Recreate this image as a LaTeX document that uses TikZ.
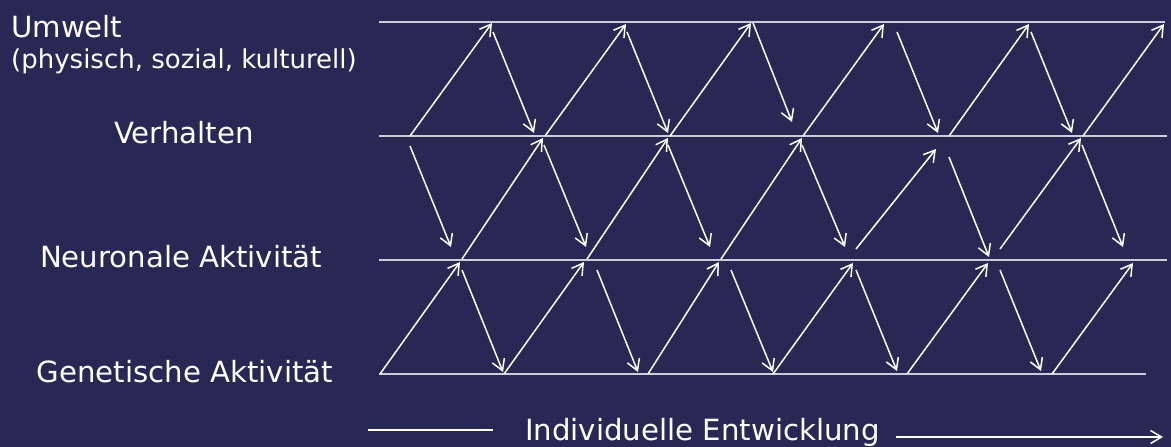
\documentclass[tikz,border=0pt]{standalone}
\usepackage{fontspec}
\setmainfont{DejaVu Sans}
\usetikzlibrary{arrows.meta}
\definecolor{bgnavy}{RGB}{39,41,84}
\definecolor{levelgray}{RGB}{205,205,215}

\begin{document}
\begin{tikzpicture}[
    x=1pt, y=-1pt,
    lbl/.style={text=white, inner sep=0pt, font=\fontsize{29.2}{35}\selectfont},
    sublbl/.style={text=white, inner sep=0pt, font=\fontsize{26}{31}\selectfont},
    level/.style={draw=levelgray, line width=2pt},
    arr/.style={-{Straight Barb[length=11pt, width=13pt]}, draw=white, line width=1.5pt}
  ]
  \fill[bgnavy] (0,0) rectangle (1171,447);
  \useasboundingbox (0,0) rectangle (1171,447);

  \node[lbl, anchor=base west] (umwelt) at (11,37) {Umwelt};
  \node[sublbl, anchor=base west] (umweltsub) at (11,68) {(physisch, sozial, kulturell)};
  \node[lbl, anchor=base] (verhalten) at (184,143) {Verhalten};
  \node[lbl, anchor=base] (neuro) at (181,267) {Neuronale Aktivität};
  \node[lbl, anchor=base] (gen) at (185,382) {Genetische Aktivität};
  \node[lbl, anchor=base west] (entw) at (525,440) {Individuelle Entwicklung};

  \draw[level] (379,22) -- (1165,22);
  \draw[level] (379,136) -- (1167,136);
  \draw[level] (379,260) -- (1167,260);
  \draw[level] (379,374) -- (1146,374);

  \draw[arr] (410,136) -- (492,23);
  \draw[arr] (493,32) -- (534,133);
  \draw[arr] (545,136) -- (626,24);
  \draw[arr] (627,32) -- (668,133);
  \draw[arr] (670,136) -- (751,23);
  \draw[arr] (753,23) -- (792,122);
  \draw[arr] (803,136) -- (884,24);
  \draw[arr] (897,32) -- (938,133);
  \draw[arr] (949,136) -- (1029,24);
  \draw[arr] (1031,32) -- (1072,133);
  \draw[arr] (1083,136) -- (1164,24);

  \draw[arr] (410,146) -- (451,247);
  \draw[arr] (462,259) -- (543,138);
  \draw[arr] (544,145) -- (586,247);
  \draw[arr] (587,259) -- (668,138);
  \draw[arr] (668,145) -- (710,247);
  \draw[arr] (721,259) -- (802,138);
  \draw[arr] (802,145) -- (845,247);
  \draw[arr] (856,249) -- (936,149);
  \draw[arr] (949,157) -- (989,257);
  \draw[arr] (1000,249) -- (1081,138);
  \draw[arr] (1082,145) -- (1123,247);

  \draw[arr] (380,374) -- (460,262);
  \draw[arr] (462,270) -- (503,372);
  \draw[arr] (504,374) -- (584,262);
  \draw[arr] (597,270) -- (638,372);
  \draw[arr] (648,374) -- (719,262);
  \draw[arr] (731,270) -- (773,372);
  \draw[arr] (773,374) -- (853,263);
  \draw[arr] (856,270) -- (897,371);
  \draw[arr] (907,374) -- (988,263);
  \draw[arr] (1000,270) -- (1041,371);
  \draw[arr] (1052,374) -- (1133,263);

  \draw[draw=white, line width=1.5pt] (368,430) -- (493,430);
  \draw[arr] (896,437) -- (1163,437);
\end{tikzpicture}
\end{document}
